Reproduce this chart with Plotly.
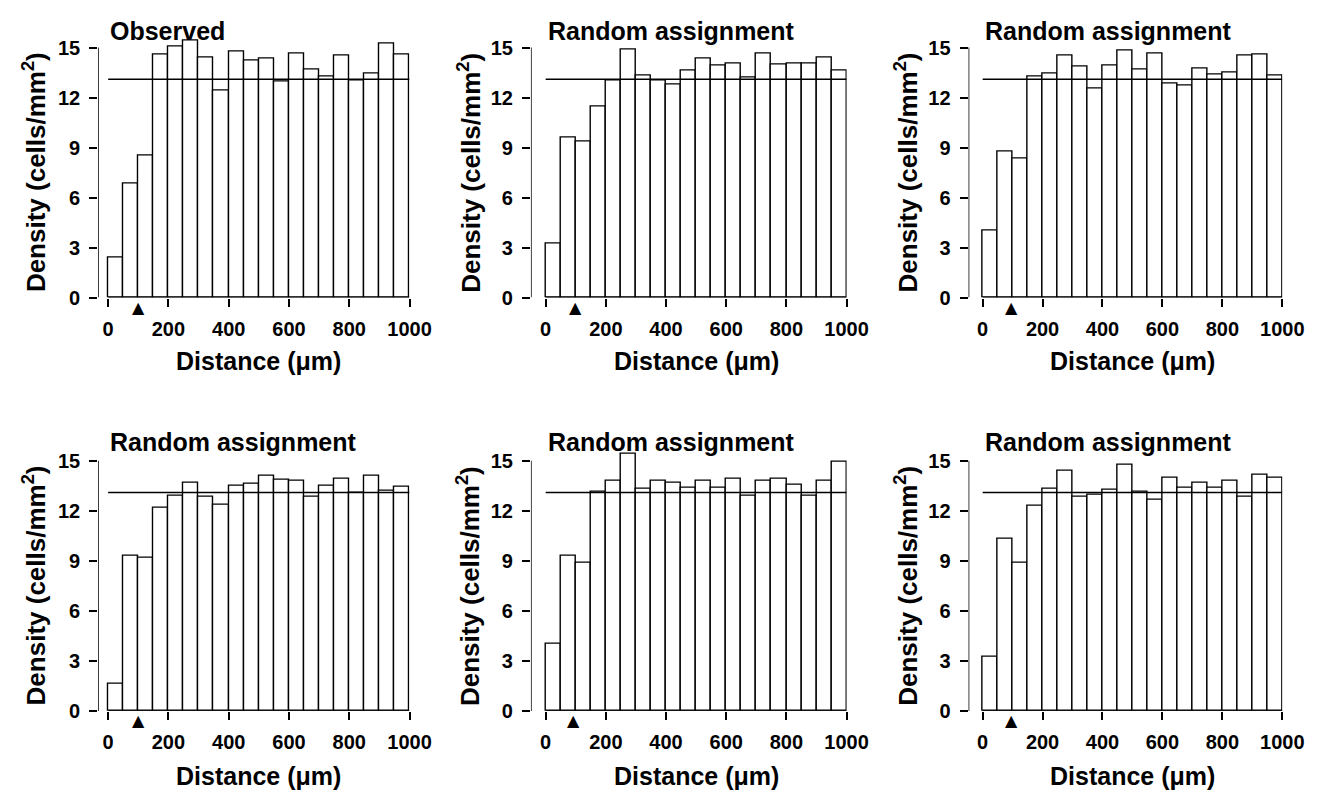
import plotly.graph_objects as go

# ---------------- data ----------------
bin_left = list(range(0, 1000, 50))
bin_width = 50
titles = ["Observed", "Random assignment", "Random assignment",
          "Random assignment", "Random assignment", "Random assignment"]
observed = [2.4, 6.85, 8.55, 14.6, 15.05, 15.45, 14.43, 12.43, 14.76, 14.21,
            14.37, 12.95, 14.62, 13.66, 13.28, 14.5, 13.03, 13.42, 15.26, 14.6]
random1 = [3.22, 9.59, 9.39, 11.45, 13.03, 14.9, 13.34, 13.03, 12.79, 13.62,
           14.33, 13.93, 14.05, 13.18, 14.62, 14.01, 14.07, 14.07, 14.43, 13.64]
random2 = [4.0, 8.74, 8.35, 13.28, 13.42, 14.5, 13.87, 12.53, 13.93, 14.82,
           13.68, 14.66, 12.83, 12.73, 13.74, 13.38, 13.48, 14.5, 14.6, 13.34]
random3 = [1.61, 9.33, 9.19, 12.19, 12.89, 13.68, 12.83, 12.38, 13.52, 13.62,
           14.11, 13.86, 13.78, 12.83, 13.52, 13.92, 13.07, 14.11, 13.23, 13.46]
random4 = [4.04, 9.29, 8.86, 13.13, 13.78, 15.45, 13.33, 13.78, 13.68, 13.37,
           13.82, 13.37, 13.92, 12.89, 13.82, 13.92, 13.56, 12.89, 13.82, 14.94]
random5 = [3.25, 10.33, 8.86, 12.3, 13.33, 14.41, 12.83, 12.99, 13.29, 14.74,
           13.13, 12.64, 13.98, 13.37, 13.68, 13.37, 13.78, 12.83, 14.15, 13.96]
series = [observed, random1, random2, random3, random4, random5]
mean_density = [13.1, 13.1, 13.1, 13.1, 13.1, 13.1]
marker_pos = [100, 100, 95, 100, 92, 95]
x_ticks = [0, 200, 400, 600, 800, 1000]
y_ticks = [0, 3, 6, 9, 12, 15]

# ---------------- layout geometry ----------------
W, H = 1331, 793
col_px = [(91.7, 408.3, -33), (531.7, 852.7, -49), (976.7, 1295.7, -47)]
row_px = [(29.0, 293.0), (448.6, 712.7)]
y_top = 15.6
FONT = "Liberation Sans, Arial, Helvetica, sans-serif"

fig = go.Figure()
layout = dict(width=W, height=H, margin=dict(l=0, r=0, t=0, b=0),
              paper_bgcolor="white", plot_bgcolor="white", showlegend=False)
annotations = []
shapes = []

for i in range(6):
    r, c = divmod(i, 3)
    xl, xr, xmin = col_px[c]
    yt, yb = row_px[r]
    sfx = "" if i == 0 else str(i + 1)
    xa, ya = "x" + sfx, "y" + sfx
    layout["xaxis" + sfx] = dict(
        domain=[xl / W, xr / W], range=[xmin, 1000], anchor=ya,
        showgrid=False, zeroline=False, showline=False,
        ticks="outside", ticklen=8, tickwidth=1.5, tickcolor="black",
        tickvals=x_ticks, ticklabelstandoff=5,
        tickfont=dict(family=FONT, size=20, color="black", weight="bold"))
    layout["yaxis" + sfx] = dict(
        domain=[1 - yb / H, 1 - yt / H], range=[0, y_top], anchor=xa,
        showgrid=False, zeroline=False, showline=False,
        ticks="outside", ticklen=8, tickwidth=1.5, tickcolor="black",
        tickvals=y_ticks, ticklabelstandoff=5,
        tickfont=dict(family=FONT, size=20, color="black", weight="bold"))

    vals = series[i]
    fig.add_trace(go.Bar(
        x=[b + bin_width / 2 for b in bin_left], y=vals, width=bin_width,
        marker=dict(color="white", line=dict(color="black", width=1.4)),
        xaxis=xa, yaxis=ya, hoverinfo="x+y"))
    fig.add_trace(go.Scatter(
        x=[0, 1000], y=[mean_density[i]] * 2, mode="lines",
        line=dict(color="black", width=1.4), xaxis=xa, yaxis=ya))

    # triangle marker below the axis
    annotations.append(dict(
        text="▲", xref=xa, x=marker_pos[i], xanchor="center",
        yref=ya, y=0, yanchor="top", yshift=2, showarrow=False,
        font=dict(family="DejaVu Sans", size=16, color="black")))

    # axis lines (offset style)
    shapes.append(dict(type="line", xref=xa, yref=ya, x0=0, x1=1000, y0=0, y1=0,
                       line=dict(color="black", width=1.5)))
    shapes.append(dict(type="line", xref=xa, yref=ya, x0=xmin, x1=xmin, y0=0, y1=15,
                       line=dict(color="black", width=1.5)))

    # panel title
    annotations.append(dict(
        text=titles[i], xref=xa, x=0, xanchor="left",
        yref="paper", y=1 - ([22, 440][r]) / H, yanchor="middle",
        showarrow=False, font=dict(family=FONT, size=25, color="black", weight="bold")))
    # x title
    annotations.append(dict(
        text="Distance (μm)", xref=xa, x=500, xanchor="center",
        yref="paper", y=1 - ([357, 779][r]) / H, yanchor="middle",
        showarrow=False, font=dict(family=FONT, size=25, color="black", weight="bold")))
    # y title
    annotations.append(dict(
        text="Density (cells/mm<sup>2</sup>)", textangle=-90,
        xref="paper", x=([27, 469, 914][c]) / W, xanchor="center",
        yref=ya, y=7.5, yanchor="middle",
        showarrow=False, font=dict(family=FONT, size=26, color="black", weight="bold")))

layout["annotations"] = annotations
layout["shapes"] = shapes
layout["bargap"] = 0
fig.update_layout(**layout)
fig.write_html("out.html")
